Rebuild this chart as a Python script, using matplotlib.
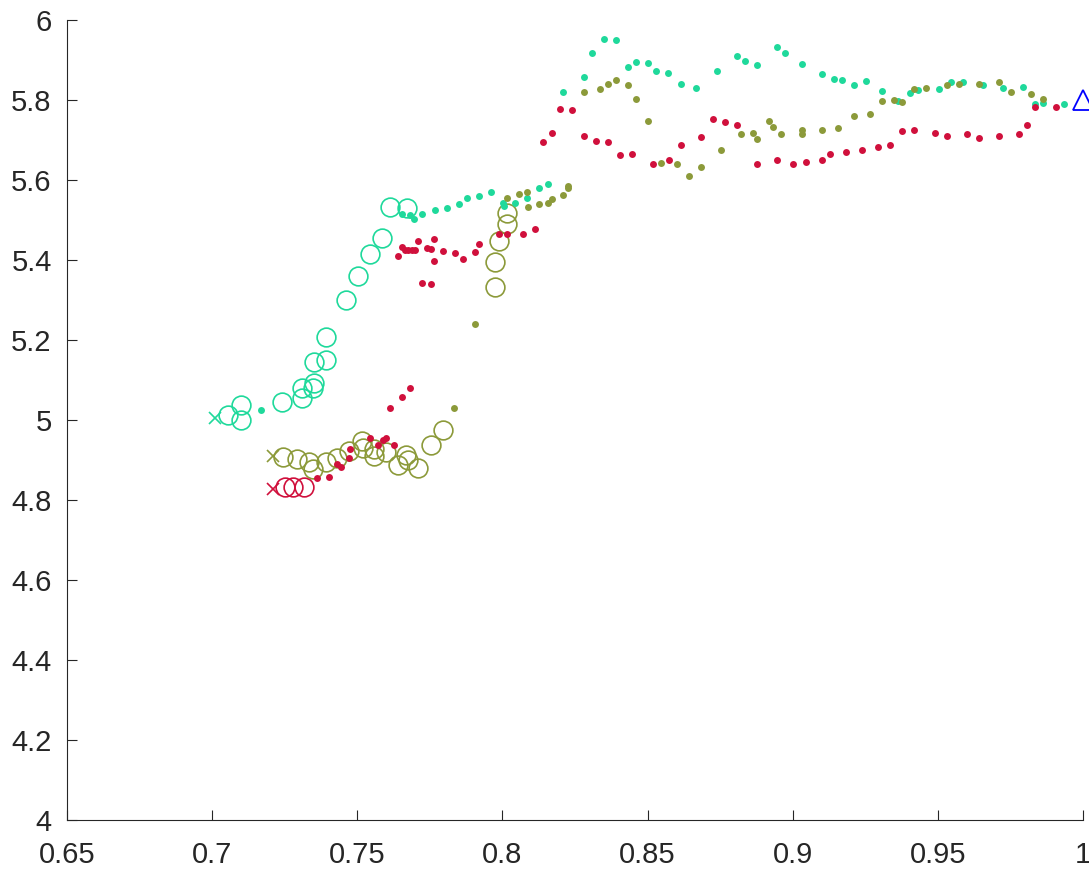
import numpy as np
import matplotlib
matplotlib.use("Agg")
import matplotlib.pyplot as plt

plt.rcParams['font.family'] = ['Liberation Sans', 'DejaVu Sans']

teal = '#1fd99b'
olive = '#8c9a3a'
red = '#d0103c'

# start points (x markers)
start_x = [0.7010, 0.7209, 0.7209]
start_y = [5.0043, 4.9100, 4.8275]

# teal series
teal_circ_x = [0.7056, 0.7099, 0.7099, 0.7240, 0.7309, 0.7309, 0.7349, 0.7351, 0.7351,
               0.7392, 0.7391, 0.7460, 0.7504, 0.7544, 0.7586, 0.7613, 0.7670]
teal_circ_y = [5.0125, 5.0375, 5.0000, 5.0458, 5.0558, 5.0793, 5.0793, 5.0918, 5.1458,
               5.1500, 5.2068, 5.3000, 5.3600, 5.4143, 5.4543, 5.5333, 5.5293]
teal_dot_x = [0.7168, 0.7653, 0.7682, 0.7696, 0.7724, 0.7768, 0.7808, 0.7850, 0.7877, 0.7919,
              0.7961, 0.8003, 0.8005, 0.8043, 0.8086, 0.8127, 0.8156, 0.8210, 0.8280, 0.8308,
              0.8350, 0.8391, 0.8433, 0.8461, 0.8503, 0.8530, 0.8572, 0.8614, 0.8668, 0.8739,
              0.8808, 0.8837, 0.8878, 0.8947, 0.8974, 0.9031, 0.9100, 0.9141, 0.9170, 0.9211,
              0.9253, 0.9308, 0.9364, 0.9405, 0.9433, 0.9503, 0.9544, 0.9587, 0.9656, 0.9724,
              0.9794, 0.9836, 0.9863, 0.9934]
teal_dot_y = [5.0250, 5.5150, 5.5125, 5.5025, 5.5143, 5.5250, 5.5293, 5.5393, 5.5543, 5.5600,
              5.5693, 5.5433, 5.5350, 5.5433, 5.5558, 5.5793, 5.5900, 5.8208, 5.8575, 5.9183,
              5.9525, 5.9493, 5.8833, 5.8950, 5.8925, 5.8725, 5.8683, 5.8393, 5.8300, 5.8725,
              5.9108, 5.8968, 5.8883, 5.9325, 5.9183, 5.8900, 5.8650, 5.8518, 5.8500, 5.8368,
              5.8475, 5.8225, 5.7975, 5.8183, 5.8243, 5.8275, 5.8443, 5.8458, 5.8375, 5.8308,
              5.8318, 5.7900, 5.7933, 5.7908]

# olive series
olive_circ_x = [0.7245, 0.7291, 0.7335, 0.7349, 0.7392, 0.7431, 0.7473, 0.7515, 0.7519, 0.7558,
                0.7559, 0.7599, 0.7641, 0.7668, 0.7676, 0.7710, 0.7753, 0.7794, 0.7974, 0.7974,
                0.7988, 0.8017, 0.8015]
olive_circ_y = [4.9068, 4.9025, 4.8943, 4.8768, 4.8943, 4.9043, 4.9225, 4.9475, 4.9308, 4.9275,
                4.9100, 4.9193, 4.8875, 4.9125, 4.9000, 4.8793, 4.9375, 4.9750, 5.3333, 5.3943,
                5.4483, 5.4900, 5.5168]
olive_dot_x = [0.7834, 0.7906, 0.8015, 0.8058, 0.8086, 0.8087, 0.8127, 0.8156, 0.8170, 0.8210,
               0.8225, 0.8225, 0.8280, 0.8336, 0.8364, 0.8391, 0.8433, 0.8461, 0.8503, 0.8545,
               0.8600, 0.8642, 0.8683, 0.8752, 0.8822, 0.8864, 0.8878, 0.8919, 0.8933, 0.8961,
               0.9031, 0.9031, 0.9100, 0.9155, 0.9211, 0.9266, 0.9308, 0.9350, 0.9378, 0.9419,
               0.9460, 0.9531, 0.9572, 0.9642, 0.9711, 0.9752, 0.9822, 0.9863]
olive_dot_y = [5.0293, 5.2393, 5.5558, 5.5643, 5.5708, 5.5333, 5.5393, 5.5433, 5.5518, 5.5625,
               5.5858, 5.5808, 5.8208, 5.8268, 5.8393, 5.8500, 5.8383, 5.8033, 5.7468, 5.6425,
               5.6393, 5.6100, 5.6333, 5.6758, 5.7143, 5.7183, 5.7013, 5.7475, 5.7325, 5.7158,
               5.7258, 5.7158, 5.7250, 5.7300, 5.7608, 5.7658, 5.7975, 5.8000, 5.7958, 5.8268,
               5.8293, 5.8368, 5.8393, 5.8408, 5.8443, 5.8208, 5.8158, 5.8033]

# red series
red_circ_x = [0.7251, 0.7280, 0.7316]
red_circ_y = [4.8333, 4.8333, 4.8333]
red_dot_x = [0.7362, 0.7404, 0.7431, 0.7444, 0.7473, 0.7475, 0.7544, 0.7588, 0.7599, 0.7572,
             0.7628, 0.7613, 0.7655, 0.7683, 0.7641, 0.7653, 0.7664, 0.7676, 0.7689, 0.7699,
             0.7710, 0.7739, 0.7753, 0.7765, 0.7765, 0.7794, 0.7837, 0.7863, 0.7906, 0.7919,
             0.7988, 0.8015, 0.8072, 0.8113, 0.7724, 0.7753, 0.8141, 0.8170, 0.8197, 0.8239,
             0.8280, 0.8322, 0.8364, 0.8405, 0.8447, 0.8518, 0.8573, 0.8614, 0.8683, 0.8724,
             0.8767, 0.8808, 0.8878, 0.8947, 0.9002, 0.9045, 0.9100, 0.9127, 0.9184, 0.9239,
             0.9294, 0.9335, 0.9378, 0.9419, 0.9489, 0.9531, 0.9600, 0.9642, 0.9711, 0.9781,
             0.9808, 0.9836, 0.9906]
red_dot_y = [4.8543, 4.8583, 4.8893, 4.8833, 4.9058, 4.9268, 4.9543, 4.9500, 4.9543, 4.9375,
             4.9375, 5.0293, 5.0568, 5.0808, 5.4108, 5.4318, 5.4250, 5.4250, 5.4250, 5.4250,
             5.4475, 5.4293, 5.4275, 5.4518, 5.3975, 5.4233, 5.4168, 5.4025, 5.4208, 5.4393,
             5.4643, 5.4643, 5.4643, 5.4768, 5.3418, 5.3393, 5.6943, 5.7175, 5.7783, 5.7750,
             5.7093, 5.6968, 5.6943, 5.6618, 5.6650, 5.6400, 5.6493, 5.6875, 5.7075, 5.7533,
             5.7458, 5.7368, 5.6400, 5.6493, 5.6393, 5.6438, 5.6493, 5.6643, 5.6693, 5.6758,
             5.6818, 5.6875, 5.7218, 5.7243, 5.7175, 5.7100, 5.7150, 5.7050, 5.7093, 5.7143,
             5.7375, 5.7818, 5.7813]

# end point
end_x = [1.0]
end_y = [5.8]

fig = plt.figure(figsize=(10.89, 8.73), dpi=100)
ax = fig.add_axes([0.0615, 0.0607, 0.933, 0.9164])

circ_kw = dict(linestyle='none', marker='o', markersize=13.5, markerfacecolor='none', markeredgewidth=1.2)
dot_kw = dict(linestyle='none', marker='o', markersize=5.0, markeredgewidth=0)

ax.plot(teal_circ_x, teal_circ_y, color=teal, **circ_kw)
ax.plot(olive_circ_x, olive_circ_y, color=olive, **circ_kw)
ax.plot(red_circ_x, red_circ_y, color=red, **circ_kw)
ax.plot(teal_dot_x, teal_dot_y, color=teal, **dot_kw)
ax.plot(olive_dot_x, olive_dot_y, color=olive, **dot_kw)
ax.plot(red_dot_x, red_dot_y, color=red, **dot_kw)

for sx, sy, c in zip(start_x, start_y, [teal, olive, red]):
    ax.plot(sx, sy, linestyle='none', marker='x', markersize=9, markeredgewidth=1.2, color=c)

ax.plot(end_x, end_y, linestyle='none', marker='^', markersize=15, markerfacecolor='none',
        markeredgecolor='#0000ff', markeredgewidth=1.3, clip_on=False)

ax.set_xlim(0.65, 1.0)
ax.set_ylim(4, 6)
ax.set_xticks([0.65, 0.7, 0.75, 0.8, 0.85, 0.9, 0.95, 1.0])
ax.set_xticklabels(['0.65', '0.7', '0.75', '0.8', '0.85', '0.9', '0.95', '1'])
ax.set_yticks([4, 4.2, 4.4, 4.6, 4.8, 5, 5.2, 5.4, 5.6, 5.8, 6])
ax.set_yticklabels(['4', '4.2', '4.4', '4.6', '4.8', '5', '5.2', '5.4', '5.6', '5.8', '6'])

for s in ['top', 'right']:
    ax.spines[s].set_visible(False)
for s in ['left', 'bottom']:
    ax.spines[s].set_color('#262626')
    ax.spines[s].set_linewidth(0.8)
ax.tick_params(direction='in', length=7, width=0.8, color='#262626', labelcolor='#262626',
               labelsize=21)
ax.tick_params(axis='x', pad=15)
ax.tick_params(axis='y', pad=11)

fig.savefig('out.png', dpi=100)
